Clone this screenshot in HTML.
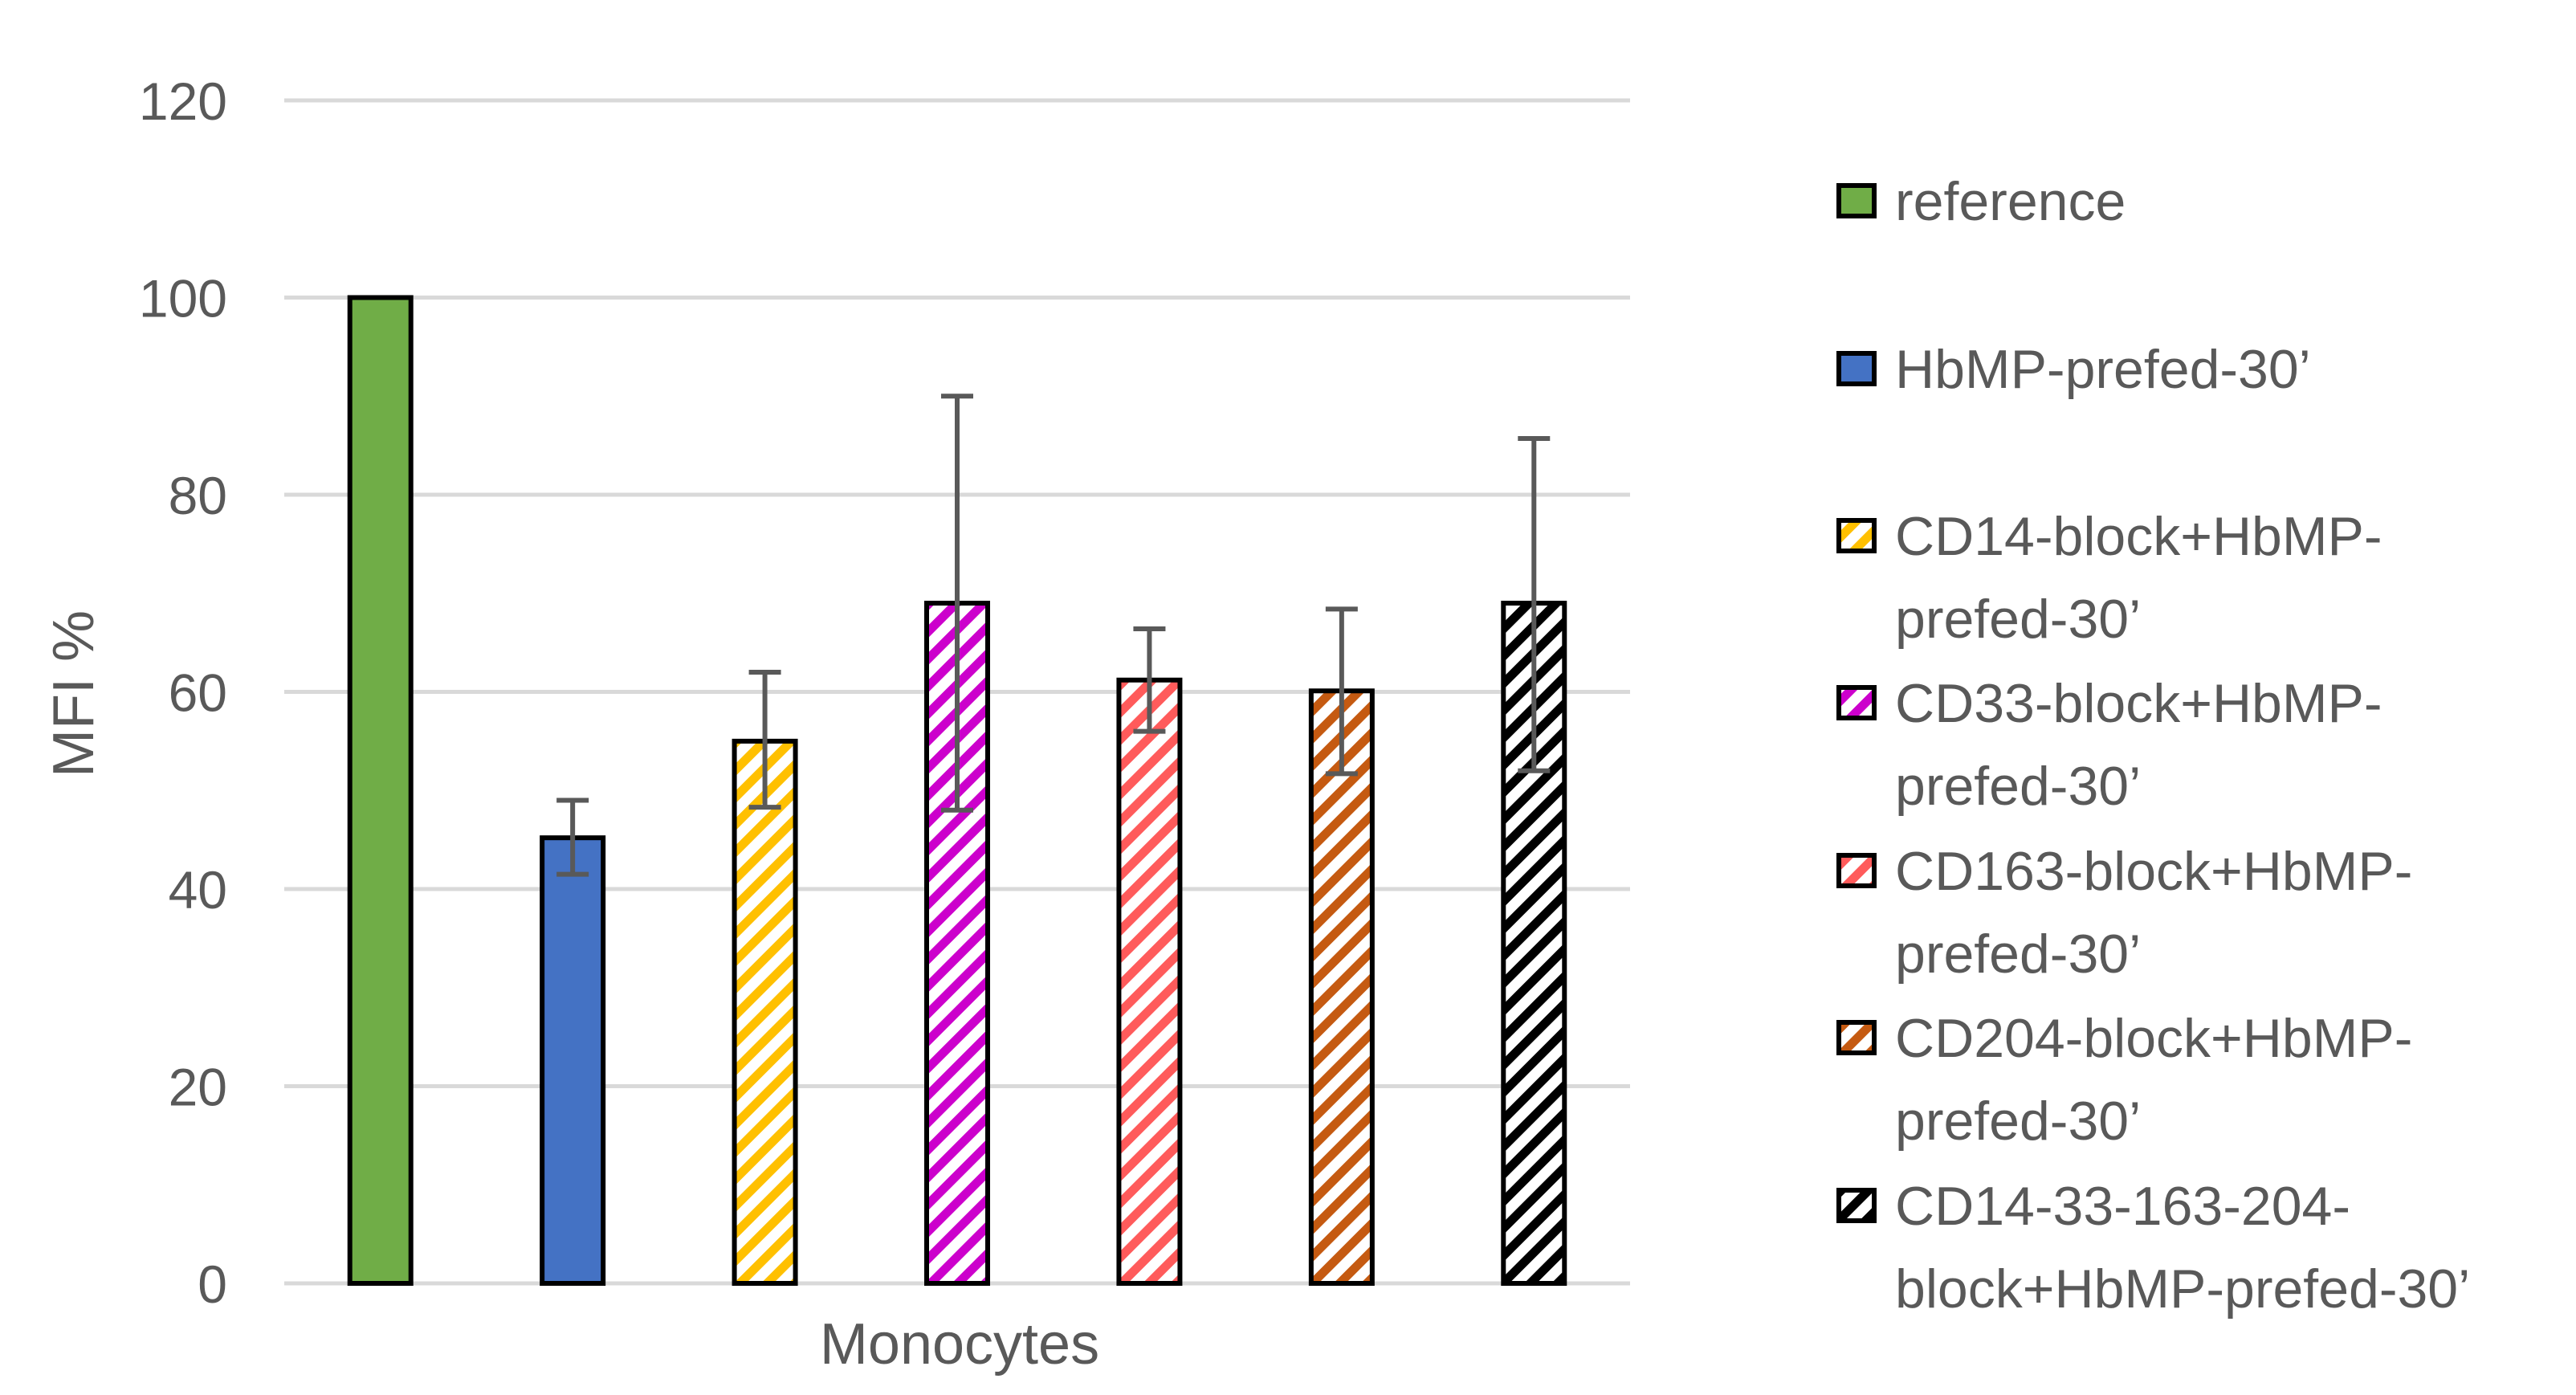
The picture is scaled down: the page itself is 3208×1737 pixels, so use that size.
<!DOCTYPE html>
<html><head><meta charset="utf-8"><style>
html,body{margin:0;padding:0;background:#fff}
svg{display:block}
text{font-family:"Liberation Sans",sans-serif;fill:#595959}
</style></head><body>
<svg id="chart" width="3208" height="1737" viewBox="0 0 3208 1737">
<defs>
<pattern id="p-yellow" width="24" height="24" patternUnits="userSpaceOnUse" patternTransform="rotate(45)"><rect width="24" height="24" fill="#fff"/><rect width="11" height="24" fill="#FFC000"/></pattern>
<pattern id="p-magenta" width="24" height="24" patternUnits="userSpaceOnUse" patternTransform="rotate(45)"><rect width="24" height="24" fill="#fff"/><rect width="11" height="24" fill="#CC00CC"/></pattern>
<pattern id="p-red" width="24" height="24" patternUnits="userSpaceOnUse" patternTransform="rotate(45)"><rect width="24" height="24" fill="#fff"/><rect width="11" height="24" fill="#FF5B5B"/></pattern>
<pattern id="p-orange" width="24" height="24" patternUnits="userSpaceOnUse" patternTransform="rotate(45)"><rect width="24" height="24" fill="#fff"/><rect width="11" height="24" fill="#C55A11"/></pattern>
<pattern id="p-black" width="24" height="24" patternUnits="userSpaceOnUse" patternTransform="rotate(45)"><rect width="24" height="24" fill="#fff"/><rect width="11" height="24" fill="#000"/></pattern>
</defs>
<g id="grid"></g>
<g id="bars"></g>
<g id="legend"></g>
<text x="97" y="864" font-size="72" text-anchor="middle" transform="rotate(-90 97 864)" dominant-baseline="middle">MFI %</text>
<text x="1195" y="1698" font-size="72" text-anchor="middle">Monocytes</text>
</svg>
<script>
const seriesNames = ["reference","HbMP-prefed-30’","CD14-block+HbMP-prefed-30’","CD33-block+HbMP-prefed-30’","CD163-block+HbMP-prefed-30’","CD204-block+HbMP-prefed-30’","CD14-33-163-204-block+HbMP-prefed-30’"];
const values = [100, 45.2, 55, 69, 61.2, 60.1, 69];
const errLow = [null, 41.5, 48.3, 48, 56, 51.7, 52];
const errHigh = [null, 49, 62, 90, 66.4, 68.4, 85.7];
const yTicks = [0, 20, 40, 60, 80, 100, 120];
const legendLines = [["reference"],["HbMP-prefed-30’"],["CD14-block+HbMP-","prefed-30’"],["CD33-block+HbMP-","prefed-30’"],["CD163-block+HbMP-","prefed-30’"],["CD204-block+HbMP-","prefed-30’"],["CD14-33-163-204-","block+HbMP-prefed-30’"]];
const fills = ["#70AD47","#4472C4","url(#p-yellow)","url(#p-magenta)","url(#p-red)","url(#p-orange)","url(#p-black)"];
const NS="http://www.w3.org/2000/svg";
const x0=354,x1=2030,yBase=1598,yTop=125;
const y=v=>yBase-(v/120)*(yBase-yTop);
const slot=(x1-x0)/7, bw=76;
const xc=i=>x0+slot*(i+0.5);
function mk(tag,attrs,parent){const e=document.createElementNS(NS,tag);for(const k in attrs)e.setAttribute(k,attrs[k]);parent.appendChild(e);return e;}
const grid=document.getElementById('grid');
yTicks.forEach(t=>{
  const l=mk('line',{x1:x0,x2:x1,y1:y(t),y2:y(t),stroke:'#D9D9D9','stroke-width':5},grid);
  
  
  const tx=mk('text',{x:283,y:y(t)+24,'font-size':66,'text-anchor':'end'},grid);
  tx.textContent=t;
  
  
});
const bars=document.getElementById('bars');
values.forEach((v,i)=>{
  const r=mk('rect',{x:xc(i)-bw/2,y:y(v),width:bw,height:y(0)-y(v),fill:fills[i],stroke:'#000','stroke-width':6},bars);
  
  
  if(errLow[i]!==null){
    const g=mk('g',{stroke:'#595959','stroke-width':6},bars);
    
    
    mk('line',{x1:xc(i),x2:xc(i),y1:y(errLow[i]),y2:y(errHigh[i])},g);
    mk('line',{x1:xc(i)-20,x2:xc(i)+20,y1:y(errLow[i]),y2:y(errLow[i])},g);
    mk('line',{x1:xc(i)-20,x2:xc(i)+20,y1:y(errHigh[i]),y2:y(errHigh[i])},g);
  }
});
const legend=document.getElementById('legend');
const rowY=[249,458,666,874,1083,1291,1500];
legendLines.forEach((lines,i)=>{
  const g=mk('g',{},legend);
  
  
  mk('rect',{x:2290,y:rowY[i]-18,width:44,height:38,fill:fills[i],stroke:'#000','stroke-width':6},g);
  lines.forEach((ln,j)=>{
    const t=mk('text',{x:2360,y:rowY[i]+25+j*103,'font-size':68},g);
    t.textContent=ln;
  });
});
</script>
</body></html>
